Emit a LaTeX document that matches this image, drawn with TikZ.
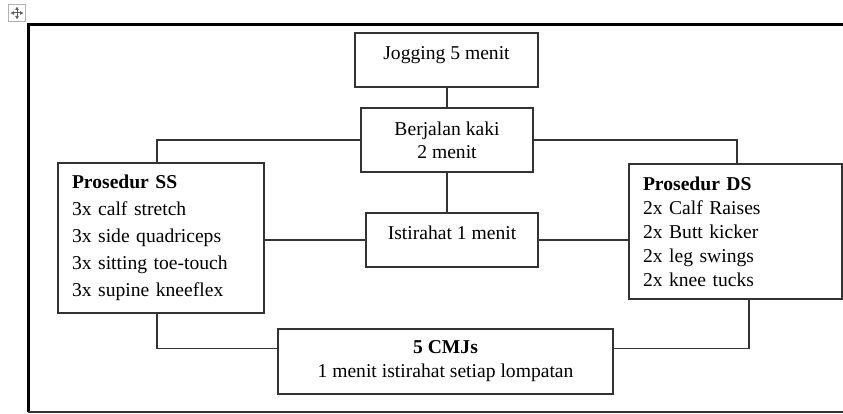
\documentclass[tikz,border=0pt]{standalone}
\usepackage{fontspec}
\setmainfont{Liberation Serif}
\usetikzlibrary{arrows.meta}
\begin{document}
\begin{tikzpicture}[x=1pt,y=-1pt,
        box/.style={draw=black!80,line width=1.3pt,inner sep=0pt,font=\fontsize{19.6}{23}\selectfont},
        one/.style={text height=13pt,text depth=13pt},
        link/.style={draw=black!80,line width=1.3pt},
        grip/.style={black!65,line width=1pt,{Latex[length=3.5pt,width=4pt]}-{Latex[length=3.5pt,width=4pt]}}]
        \useasboundingbox (0,0) rectangle (843,414);
        \draw[black!30] (8.5,4.5) rectangle (25.5,21.5);
        \draw[grip] (10.5,13) -- (23.5,13);
        \draw[grip] (17,6.5) -- (17,19.5);
        \draw[line width=3pt] (850,25) -| (28,412);
        \draw[black!80,line width=1.5pt] (28,412) -- (850,412);

        \node[box,one,minimum width=183pt,minimum height=54pt] (J) at (446.5,60) {Jogging 5 menit};
        \node[box,align=center,minimum width=172pt,minimum height=64pt] (W) at (447,140) {Berjalan kaki\\2 menit};
        \node[box,one,minimum width=172pt,minimum height=54pt] (I) at (452,240) {Istirahat 1 menit};
        \node[box,font=\fontsize{19.6}{27}\selectfont,align=left,text width=178pt,inner xsep=14pt,minimum height=150pt] (S) at (161,238)
          {\textbf{Prosedur SS}\\3x calf stretch\\3x side quadriceps\\3x sitting toe-touch\\3x supine kneeflex};
        \node[box,font=\fontsize{19.6}{24}\selectfont,align=left,text width=185pt,inner xsep=14pt,minimum height=135pt] (D) at (735.5,231.5)
          {\textbf{Prosedur DS}\\2x Calf Raises\\2x Butt kicker\\2x leg swings\\2x knee tucks};
        \node[box,font=\fontsize{19.6}{24}\selectfont,align=center,minimum width=335pt,minimum height=65pt] (C) at (445.5,361.5)
          {\textbf{5 CMJs}\\1 menit istirahat setiap lompatan};

        \draw[link] (W.north) -- (W.north |- J.south);
        \draw[link] (W.west) -| ([xshift=-4pt]S.north);
        \draw[link] (W.east) -| ([xshift=1.5pt]D.north);
        \draw[link] (W.south) -- (W.south |- I.north);
        \draw[link] (I.west -| S.east) -- (I.west);
        \draw[link] (I.east) -- (I.east -| D.west);
        \draw[link] ([xshift=-4pt]S.south) |- ([yshift=13pt]C.west);
        \draw[link] ([xshift=13.5pt]D.south) |- ([yshift=13pt]C.east);
      \end{tikzpicture}
\end{document}
